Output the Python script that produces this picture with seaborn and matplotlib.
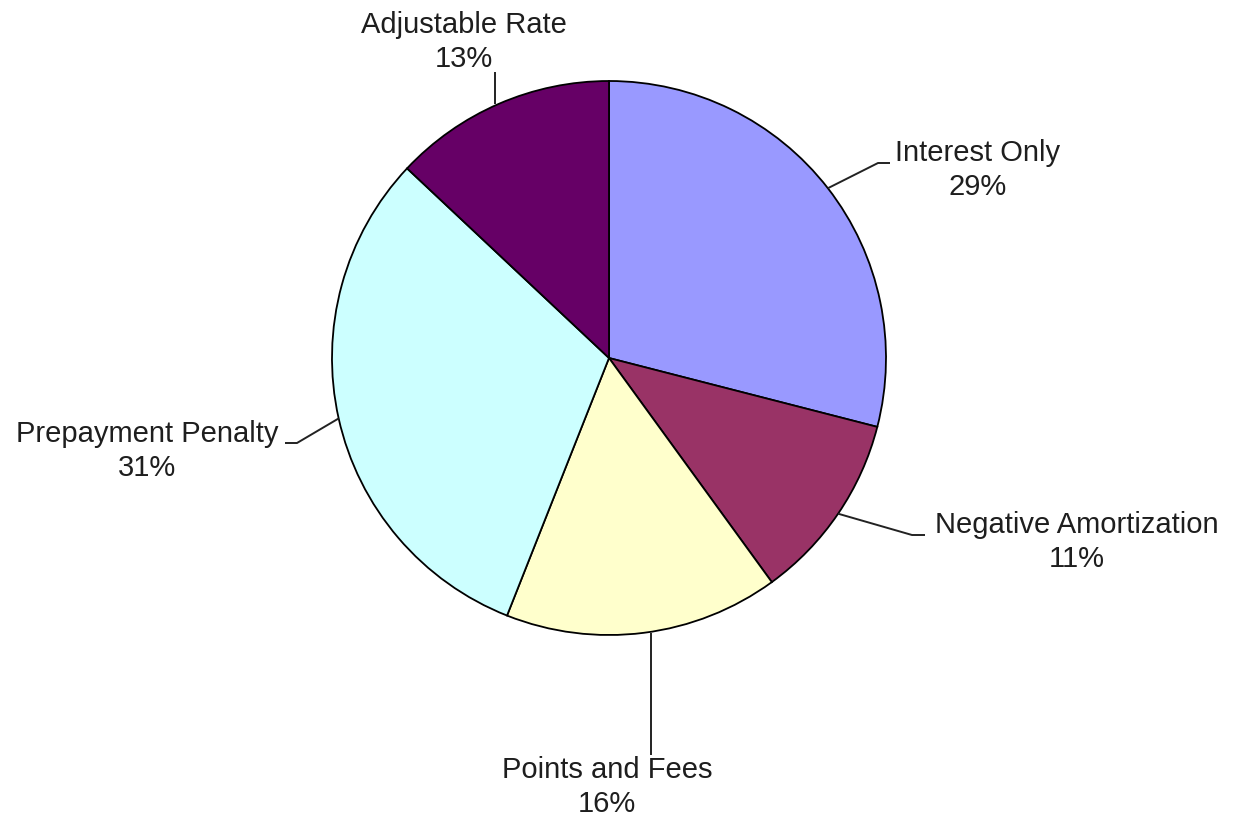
import numpy as np
import matplotlib
matplotlib.use("Agg")
import matplotlib.pyplot as plt
import seaborn as sns

# ---- data ----
categories = ["Interest Only", "Negative Amortization", "Points and Fees",
              "Prepayment Penalty", "Adjustable Rate"]
shares = [29, 11, 16, 31, 13]
colors = ["#9999FF", "#993366", "#FFFFCC", "#CCFFFF", "#660066"]

sns.set_theme(style="white")
plt.rcParams["font.family"] = ["Liberation Sans", "DejaVu Sans"]

W, H = 1240, 821
fig = plt.figure(figsize=(W / 100, H / 100), dpi=100)
ax = fig.add_axes([0, 0, 1, 1])
ax.set_xlim(0, W)
ax.set_ylim(0, H)
ax.set_aspect("equal")
ax.axis("off")

def Y(y):
    return H - y

cx, cy, R = 609, 358, 277
wedges, _ = ax.pie(shares, colors=colors, startangle=90, counterclock=False,
                   center=(cx, Y(cy)), radius=R, frame=True,
                   wedgeprops=dict(edgecolor="black", linewidth=1.3))
ax.set_xlim(0, W)
ax.set_ylim(0, H)
ax.axis("off")

# label layout: (text center x, y), elbow point, end point (pixel coords, y down)
layout = [
    ((978, 170), (878, 163), (890, 163)),
    ((1077, 542), (912, 535), (925, 535)),
    ((607, 787), (651, 700), (651, 755)),
    ((147, 451), (297, 443), (285, 443)),
    ((464, 42), (495, 90), (495, 72)),
]

for w, cat, val, (tc, elbow, end) in zip(wedges, categories, shares, layout):
    mid = np.deg2rad((w.theta1 + w.theta2) / 2)
    sx = cx + R * np.cos(mid)
    sy = Y(cy) + R * np.sin(mid)
    if cat in ("Points and Fees", "Adjustable Rate"):
        xs = [end[0], end[0]]
        ys = [sy, Y(end[1])]
    else:
        xs = [sx, elbow[0], end[0]]
        ys = [sy, Y(elbow[1]), Y(end[1])]
    ax.plot(xs, ys, color="#222222", linewidth=1.4, solid_capstyle="butt")
    ax.text(tc[0], Y(tc[1]), f"{cat}\n{val}%", ha="center", va="center",
            multialignment="center", fontsize=21, color="#1e1e1e",
            linespacing=1.3)

fig.savefig("out.png", dpi=100, facecolor="white")
